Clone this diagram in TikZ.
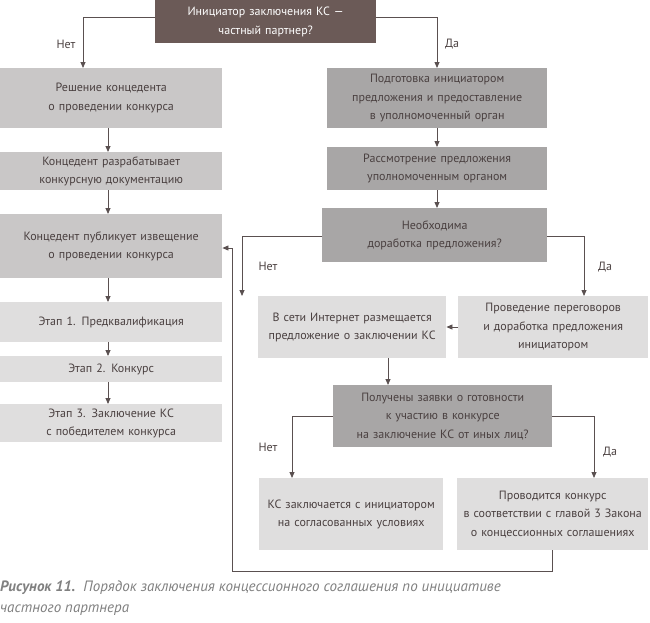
\documentclass[tikz,border=0pt]{standalone}
\usepackage{fontspec}
\setmainfont{PT Sans}
\usetikzlibrary{arrows.meta}
\definecolor{topc}{HTML}{6B5A57}
\definecolor{midc}{HTML}{C9C7C7}
\definecolor{darkc}{HTML}{A8A6A6}
\definecolor{lightc}{HTML}{DFDEDE}
\definecolor{linec}{HTML}{5A5050}
\definecolor{txt}{HTML}{4A4040}
\begin{document}
\begin{tikzpicture}[x=1pt,y=-1pt,
  box/.style={anchor=north west,inner sep=0pt,align=center,text=txt,font=\fontsize{12}{18.5}\selectfont},
  arr/.style={draw=linec,line width=0.8pt,-{Triangle[length=6pt,width=5pt]}},
  lab/.style={text=txt,font=\fontsize{12}{14}\selectfont}]
\useasboundingbox (0,0) rectangle (650,622);
\newcommand{\bx}[7]{\node[box,fill=#2,minimum width=#5pt-#3pt,minimum height=#6pt-#4pt,text width=#5pt-#3pt] (#1) at (#3,#4) {#7};}
\bx{top}{topc}{155}{0}{376}{43}{\textcolor{white}{Инициатор заключения КС —}\\\textcolor{white}{частный партнер?}}
\bx{l1}{midc}{0}{68}{222}{128}{Решение концедента\\о проведении конкурса}
\bx{l2}{midc}{0}{152}{222}{190}{Концедент разрабатывает\\конкурсную документацию}
\bx{l3}{midc}{0}{214}{222}{278}{Концедент публикует извещение\\о проведении конкурса}
\bx{l4}{lightc}{0}{302}{222}{342}{Этап 1. Предквалификация}
\bx{l5}{lightc}{0}{356}{222}{382}{Этап 2. Конкурс}
\bx{l6}{lightc}{0}{404}{222}{442}{Этап 3. Заключение КС\\с победителем конкурса}
\bx{r1}{darkc}{327}{68}{547}{128}{Подготовка инициатором\\предложения и предоставление\\в уполномоченный орган}
\bx{r2}{darkc}{327}{147}{547}{190}{Рассмотрение предложения\\уполномоченным органом}
\bx{d1}{darkc}{322}{208}{547}{262}{Необходима\\доработка предложения?}
\bx{n1}{lightc}{258}{296}{446}{358}{В сети Интернет размещается\\предложение о заключении КС}
\bx{n2}{lightc}{458}{296}{648}{358}{Проведение переговоров\\и доработка предложения\\инициатором}
\bx{d2}{darkc}{333}{385}{552}{447}{Получены заявки о готовности\\к участию в конкурсе\\на заключение КС от иных лиц?}
\bx{b1}{lightc}{259}{478}{443}{550}{КС заключается с инициатором\\на согласованных условиях}
\bx{b2}{lightc}{457}{478}{648}{550}{Проводится конкурс\\в соответствии с главой 3 Закона\\о концессионных соглашениях}
% arrows
\draw[arr] (top.west|-0,17) -| (83,68);
\draw[arr] (top.east|-0,17) -| (437,68);
\node[lab] at (66,44) {Нет};
\node[lab] at (452,44) {Да};
\draw[arr] (l1.south-|108,0) -- (l2.north-|108,0);
\draw[arr] (l2.south-|108,0) -- (l3.north-|108,0);
\draw[arr] (l3.south-|108,0) -- (l4.north-|108,0);
\draw[arr] (l4.south-|108,0) -- (l5.north-|108,0);
\draw[arr] (l5.south-|108,0) -- (l6.north-|108,0);
\draw[arr] (r1.south-|437,0) -- (r2.north-|437,0);
\draw[arr] (r2.south-|437,0) -- (d1.north-|437,0);
\draw[arr] (d1.west|-0,236) -| (242,296);
\draw[arr] (d1.east|-0,236) -| (584,296);
\node[lab] at (268,266) {Нет};
\node[lab] at (605,267) {Да};
\draw[arr] (n2.west|-0,327) -- (n1.east|-0,327);
\draw[arr] (n1.south-|388,0) -- (d2.north-|388,0);
\draw[arr] (d2.west|-0,416) -| (292,478);
\draw[arr] (d2.east|-0,416) -| (594,478);
\node[lab] at (268,447) {Нет};
\node[lab] at (610,452) {Да};
\coordinate (c1) at (552,571);
\coordinate (c2) at (232,571);
\coordinate (c3) at (232,248);
\draw[arr] (b2.south-|552,0) -- (c1) -- (c2) -- (c3) -- (l3.east|-c3);
% caption
\node[anchor=north west,inner sep=0pt,align=left,text=gray,font=\fontsize{15}{21}\selectfont\itshape] at (0,581)
 {\textbf{Рисунок 11.}\ \ Порядок заключения концессионного соглашения по инициативе\\частного партнера};
\end{tikzpicture}
\end{document}
